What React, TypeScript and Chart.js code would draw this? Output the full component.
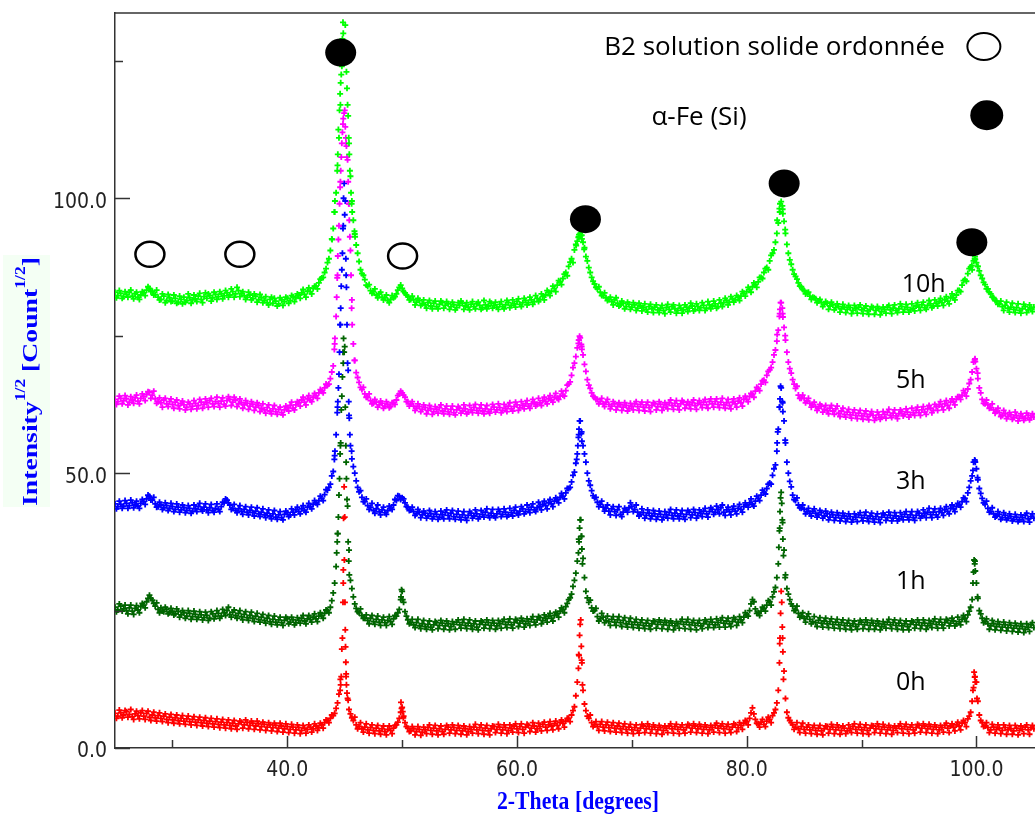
import React, { useEffect, useRef } from 'react';
import { Chart, registerables } from 'chart.js';

Chart.register(...registerables);

// ---- scan grid (2-Theta): main readings at 25.0, 25.25, ...; interleaved readings at 25.125, 25.375, ... ----
const THETA_START = 25;
const THETA_STEP = 0.25;

// ---- sqrt-intensity, main grid 25° .. 105° (4 values per degree) ----
const I_10h = [
  82.9, 82.3, 82.7, 82.1, 82.5, 82.9, 82.2, 82.6, 82.0, 82.4, 82.8, 83.3, 83.6, 83.1, 82.5, 82.0,
  81.6, 82.2, 81.4, 81.9, 81.3, 81.8, 81.1, 81.6, 82.0, 81.4, 81.9, 81.5, 81.7, 82.2, 81.6, 82.1,
  81.8, 82.3, 81.9, 82.5, 82.1, 82.6, 82.3, 82.8, 82.4, 83.0, 82.6, 83.2, 82.7, 82.3, 82.0, 82.4,
  81.8, 82.2, 81.5, 81.9, 81.4, 81.0, 81.6, 80.9, 81.3, 80.8, 81.5, 81.2, 81.8, 81.4, 82.1, 81.9,
  82.4, 82.8, 82.5, 83.1, 83.0, 83.6, 84.0, 84.6, 85.5, 86.5, 88.3, 90.5, 94.5, 101.0, 111.0, 124.0,
  138.0, 117.0, 104.0, 96.0, 91.5, 88.5, 86.3, 85.2, 84.0, 83.2, 83.0, 82.4, 82.6, 82.0, 81.9, 81.4,
  81.6, 81.9, 82.6, 83.8, 83.6, 82.8, 82.1, 81.6, 81.5, 81.1, 81.4, 80.8, 80.6, 81.0, 80.4, 80.9,
  80.3, 80.7, 81.0, 80.5, 80.8, 80.3, 80.6, 80.1, 80.5, 80.9, 80.4, 80.2, 80.7, 80.3, 80.8, 80.5,
  80.1, 80.6, 80.4, 80.9, 80.5, 80.2, 80.7, 80.3, 80.6, 81.0, 80.5, 80.8, 81.2, 80.7, 81.0, 81.4,
  81.0, 81.5, 81.2, 81.8, 81.6, 82.1, 82.4, 82.9, 83.1, 83.6, 84.2, 84.8, 85.4, 86.5, 87.6, 89.0,
  90.6, 92.2, 93.6, 92.0, 89.4, 87.4, 85.6, 84.4, 83.5, 82.9, 82.3, 81.9, 81.6, 81.2, 81.5, 80.9,
  80.6, 80.9, 80.3, 80.7, 80.2, 80.6, 80.0, 80.4, 80.1, 79.8, 80.3, 79.9, 80.2, 79.7, 80.0, 79.6,
  80.1, 79.8, 80.3, 79.9, 79.6, 80.0, 79.7, 80.2, 80.0, 80.4, 79.8, 80.3, 80.1, 80.5, 80.0, 80.6,
  80.4, 80.8, 80.3, 80.9, 81.0, 81.4, 81.1, 81.7, 81.5, 82.0, 82.2, 82.7, 83.0, 83.4, 83.9, 84.3,
  84.8, 85.6, 86.5, 87.4, 88.6, 90.0, 92.0, 95.5, 99.4, 95.8, 91.6, 88.8, 87.0, 85.8, 84.6, 83.9,
  83.2, 82.8, 82.2, 82.0, 81.7, 81.3, 81.0, 80.7, 80.9, 80.4, 80.6, 80.1, 80.3, 79.9, 80.2, 79.8,
  80.1, 79.6, 79.9, 80.2, 79.7, 80.0, 79.5, 79.8, 80.1, 79.6, 79.9, 79.4, 79.8, 80.2, 79.7, 80.0,
  79.6, 79.9, 80.3, 79.8, 80.1, 79.7, 80.0, 80.4, 80.2, 80.6, 80.1, 80.5, 80.8, 80.4, 80.9, 81.2,
  81.0, 81.5, 81.3, 81.9, 81.9, 82.4, 83.2, 84.2, 85.2, 86.3, 87.5, 88.6, 88.3, 86.8, 85.4, 84.3,
  83.5, 82.6, 81.9, 81.3, 80.8, 80.3, 80.5, 80.0, 80.2, 79.8, 80.1, 79.6, 79.9, 80.3, 79.7, 80.0,
  80.2,
];
const I_10h_mid = [
  81.9, 83.2, 81.8, 83.0, 82.0, 83.3, 81.7, 82.9, 81.6, 83.0, 82.3, 83.9, 83.0, 82.4, 83.3, 81.5,
  82.6, 81.0, 82.5, 81.2, 82.4, 80.9, 82.2, 80.8, 81.1, 82.6, 80.9, 82.4, 81.2, 82.7, 81.0, 82.8,
  82.6, 81.3, 82.9, 81.6, 83.0, 81.7, 83.2, 82.0, 83.5, 82.0, 83.8, 82.1, 83.0, 81.6, 82.9, 81.5,
  82.6, 81.1, 82.5, 81.0, 82.1, 80.6, 82.0, 81.8, 80.4, 81.9, 80.5, 82.0, 80.9, 82.3, 81.2, 82.6,
  81.8, 83.4, 82.0, 83.7, 82.6, 84.0, 83.5, 85.3, 85.6, 87.2, 89.0, 92.6, 97.5, 106.0, 117.0, 130.0,
  125.0, 110.0, 99.5, 93.5, 90.0, 87.0, 86.0, 84.2, 84.3, 82.7, 83.5, 81.9, 82.9, 81.5, 82.4, 81.0,
  82.3, 82.1, 83.3, 84.2, 83.0, 82.4, 81.5, 82.2, 80.6, 81.8, 80.5, 81.5, 80.0, 81.4, 79.9, 81.3,
  79.9, 81.3, 80.0, 81.2, 79.8, 81.1, 79.7, 81.0, 81.3, 79.8, 81.0, 79.7, 81.2, 79.9, 81.1, 79.8,
  81.4, 79.9, 81.2, 80.0, 81.1, 79.8, 81.2, 79.9, 81.4, 80.1, 81.5, 80.2, 81.7, 80.3, 81.8, 80.6,
  82.0, 80.7, 82.3, 81.2, 82.6, 81.5, 83.2, 82.3, 84.0, 83.0, 85.0, 84.3, 86.2, 85.9, 88.4, 88.3,
  91.6, 93.0, 93.3, 91.0, 88.6, 86.5, 84.9, 83.8, 83.9, 82.3, 82.8, 81.4, 82.0, 80.6, 81.9, 80.4,
  81.3, 79.9, 81.1, 79.8, 81.0, 79.6, 80.9, 79.5, 80.8, 79.3, 80.7, 79.2, 80.6, 79.2, 80.5, 79.0,
  80.7, 79.3, 80.6, 79.1, 80.5, 79.1, 80.6, 79.4, 80.9, 79.5, 80.8, 79.6, 81.0, 79.6, 81.2, 79.9,
  81.3, 80.0, 81.5, 80.3, 81.8, 80.6, 82.1, 81.1, 82.3, 81.4, 83.0, 82.2, 83.8, 82.9, 84.6, 83.8,
  85.6, 85.4, 87.2, 87.0, 89.6, 90.6, 93.6, 97.5, 98.0, 93.6, 90.0, 88.0, 86.2, 85.3, 84.0, 83.4,
  82.6, 82.9, 81.6, 81.9, 81.0, 81.6, 80.3, 81.2, 79.8, 81.1, 79.7, 80.8, 79.3, 80.7, 79.2, 80.5,
  79.0, 80.5, 79.1, 80.6, 79.0, 80.4, 78.9, 80.3, 78.9, 80.3, 78.8, 80.2, 79.1, 80.5, 79.0, 80.6,
  79.2, 80.8, 79.3, 80.7, 79.3, 80.8, 79.5, 81.0, 79.6, 81.1, 79.8, 81.4, 80.1, 81.5, 80.4, 81.8,
  80.5, 82.1, 80.8, 82.6, 81.5, 83.2, 83.0, 85.0, 84.9, 87.2, 87.0, 89.4, 87.6, 86.0, 84.7, 83.5,
  82.9, 82.0, 81.4, 80.7, 81.3, 79.6, 81.1, 79.3, 80.9, 79.2, 80.8, 79.1, 80.7, 79.2, 80.6, 79.4,
];

const I_5h = [
  63.4, 63.0, 63.6, 63.2, 63.5, 62.9, 63.3, 63.7, 63.1, 63.6, 63.9, 64.3, 64.7, 64.2, 63.5, 63.0,
  62.8, 63.3, 62.6, 63.0, 62.5, 62.9, 62.3, 62.7, 62.4, 62.0, 62.6, 62.2, 62.7, 62.3, 62.9, 62.5,
  62.8, 63.2, 62.6, 63.0, 62.7, 63.1, 62.5, 63.2, 63.4, 62.9, 63.3, 62.6, 62.8, 62.4, 62.7, 62.2,
  62.5, 62.0, 62.3, 61.8, 61.5, 61.9, 61.3, 61.7, 61.2, 61.6, 61.0, 61.5, 61.9, 62.3, 61.8, 62.4,
  62.8, 63.3, 62.9, 63.5, 63.3, 63.8, 64.1, 64.6, 64.9, 65.5, 66.0, 67.2, 69.5, 78.5, 95.0, 110.0,
  116.0, 107.0, 90.5, 73.5, 68.3, 66.5, 65.2, 64.4, 63.8, 63.2, 62.7, 62.9, 62.4, 62.7, 62.2, 62.5,
  62.1, 62.8, 63.3, 64.4, 64.6, 63.8, 63.0, 62.6, 62.2, 61.8, 62.1, 61.6, 61.9, 61.4, 61.7, 61.2,
  61.6, 61.9, 61.3, 61.7, 61.2, 61.6, 61.0, 61.5, 61.8, 61.3, 61.7, 61.1, 61.5, 61.9, 61.4, 61.8,
  61.3, 61.7, 61.2, 61.6, 62.0, 61.5, 61.9, 61.4, 61.8, 62.2, 61.7, 62.1, 62.4, 61.9, 62.3, 62.6,
  62.2, 62.6, 62.9, 62.5, 62.8, 63.2, 63.0, 63.5, 63.3, 63.8, 63.6, 64.0, 64.2, 65.0, 66.2, 67.8,
  70.0, 72.8, 74.6, 71.5, 68.5, 66.0, 64.6, 63.8, 63.4, 63.0, 62.6, 62.9, 62.5, 62.2, 62.6, 62.1,
  62.4, 62.0, 62.3, 61.8, 62.2, 62.6, 62.1, 62.5, 62.0, 62.4, 61.9, 62.3, 62.6, 62.1, 62.5, 62.0,
  62.4, 62.8, 62.3, 62.7, 62.2, 62.6, 62.9, 62.4, 62.4, 62.8, 62.3, 62.7, 62.5, 62.9, 62.4, 63.0,
  62.6, 63.0, 62.5, 62.9, 62.4, 62.8, 62.3, 62.9, 62.6, 63.1, 62.8, 63.4, 63.4, 63.9, 64.3, 64.9,
  65.4, 66.2, 66.9, 67.8, 68.8, 70.2, 72.4, 76.0, 81.0, 76.5, 72.0, 69.0, 67.0, 65.4, 64.2, 63.6,
  63.6, 63.1, 62.7, 62.4, 62.1, 61.8, 62.2, 61.6, 61.4, 61.8, 61.3, 61.7, 60.9, 61.3, 60.7, 61.1,
  60.6, 61.0, 60.5, 60.9, 60.4, 60.8, 60.3, 60.7, 60.5, 60.1, 60.6, 60.2, 60.7, 61.1, 60.5, 60.9,
  60.4, 60.8, 61.2, 60.7, 61.1, 60.6, 61.0, 61.4, 61.0, 61.5, 61.1, 61.7, 61.8, 61.4, 62.1, 62.4,
  62.1, 62.6, 62.3, 62.9, 63.0, 63.4, 63.9, 64.2, 64.6, 65.3, 67.0, 70.2, 69.0, 65.5, 63.4, 62.6,
  62.4, 61.9, 61.5, 61.2, 61.0, 60.5, 60.8, 60.3, 60.6, 60.1, 60.4, 60.0, 60.3, 60.0, 60.5, 60.1,
  60.2,
];
const I_5h_mid = [
  62.5, 64.0, 62.6, 64.1, 62.4, 63.9, 62.7, 64.2, 62.6, 64.4, 63.2, 64.8, 63.6, 64.9, 62.7, 63.7,
  62.0, 63.6, 62.1, 63.5, 61.8, 63.3, 61.7, 63.1, 61.5, 62.9, 61.6, 63.2, 61.7, 63.4, 61.8, 63.5,
  62.0, 63.6, 62.1, 63.8, 62.0, 63.7, 62.2, 63.9, 62.3, 63.8, 62.1, 63.5, 61.8, 63.2, 61.6, 63.0,
  61.4, 62.8, 61.2, 62.6, 60.9, 62.4, 60.8, 62.3, 60.7, 62.0, 60.6, 62.2, 61.3, 62.9, 61.5, 63.0,
  62.2, 63.8, 62.4, 64.1, 63.0, 64.5, 63.6, 65.2, 64.6, 66.2, 66.2, 68.4, 73.5, 86.0, 103.0, 114.5,
  110.0, 99.0, 81.5, 70.5, 67.4, 65.6, 65.6, 63.8, 64.4, 62.6, 63.4, 62.0, 63.1, 61.8, 63.0, 61.9,
  62.8, 62.5, 64.1, 64.9, 64.2, 63.0, 62.2, 63.0, 61.4, 62.6, 61.2, 62.4, 60.8, 62.3, 60.7, 62.1,
  60.9, 62.4, 60.8, 62.2, 60.7, 62.2, 60.6, 62.1, 60.9, 62.4, 60.8, 62.3, 61.0, 62.5, 60.9, 62.4,
  60.8, 62.3, 60.9, 62.5, 61.1, 62.6, 61.0, 62.5, 61.2, 62.8, 61.3, 62.9, 61.4, 63.0, 61.7, 63.2,
  61.8, 63.4, 62.2, 63.6, 62.3, 63.8, 62.6, 64.1, 62.9, 64.5, 63.4, 64.9, 64.0, 66.0, 66.6, 69.2,
  71.2, 74.2, 73.0, 69.8, 67.0, 65.4, 64.0, 63.4, 62.6, 63.6, 62.1, 63.4, 61.7, 63.0, 61.5, 62.8,
  61.4, 62.8, 61.3, 62.7, 61.5, 63.0, 61.4, 62.9, 61.3, 62.9, 61.2, 62.8, 61.5, 63.0, 61.4, 62.8,
  61.7, 63.3, 61.6, 63.2, 61.5, 63.2, 61.8, 63.0, 61.7, 63.3, 61.6, 63.2, 61.9, 63.4, 61.8, 63.5,
  62.0, 63.5, 61.9, 63.6, 61.8, 63.4, 61.7, 63.5, 62.0, 63.7, 62.2, 64.0, 63.0, 64.5, 63.8, 65.6,
  65.0, 66.8, 66.5, 68.5, 69.2, 71.5, 74.0, 79.0, 79.0, 74.2, 70.2, 68.2, 66.2, 65.8, 63.6, 64.2,
  62.8, 63.6, 62.0, 62.9, 61.4, 62.5, 61.1, 62.3, 60.8, 62.3, 60.7, 62.2, 60.3, 61.8, 60.2, 61.6,
  60.0, 61.5, 59.9, 61.4, 59.8, 61.3, 59.7, 61.2, 59.6, 61.1, 59.8, 61.2, 60.0, 61.6, 60.1, 61.5,
  59.9, 61.5, 60.4, 61.7, 60.2, 61.8, 60.5, 62.0, 60.5, 62.1, 60.7, 62.3, 61.0, 62.5, 61.4, 63.0,
  61.5, 63.2, 61.8, 63.5, 62.4, 63.9, 63.4, 65.0, 64.0, 66.3, 68.4, 70.8, 67.2, 64.6, 62.7, 63.3,
  61.8, 62.6, 60.9, 61.8, 60.3, 61.4, 59.9, 61.0, 59.8, 61.1, 59.5, 60.8, 59.6, 60.9, 59.7, 60.8,
];

const I_3h = [
  44.4, 43.9, 44.3, 44.0, 44.5, 44.1, 44.6, 44.2, 44.0, 44.5, 44.8, 45.3, 45.8, 45.1, 44.4, 43.9,
  44.2, 43.7, 44.1, 43.6, 43.9, 43.4, 43.8, 43.3, 43.7, 43.2, 43.6, 43.1, 43.5, 43.9, 43.4, 43.8,
  43.3, 43.7, 43.2, 43.6, 43.4, 43.9, 44.6, 45.1, 44.2, 43.6, 43.2, 43.5, 43.1, 43.4, 42.9, 43.2,
  42.8, 43.1, 42.6, 42.9, 42.4, 42.7, 42.2, 42.6, 42.0, 42.4, 41.9, 42.5, 42.8, 42.4, 42.9, 43.3,
  43.0, 43.5, 43.2, 43.8, 43.9, 44.3, 44.6, 45.0, 45.4, 46.1, 46.9, 48.0, 50.3, 57.0, 68.0, 87.0,
  97.0, 70.0, 55.0, 51.2, 48.6, 46.6, 45.6, 44.8, 44.1, 43.8, 43.2, 43.5, 43.0, 43.3, 42.8, 43.2,
  43.6, 44.2, 45.0, 45.8, 45.5, 44.6, 43.8, 43.3, 43.0, 42.6, 42.9, 42.4, 42.7, 42.2, 42.6, 42.1,
  42.5, 42.0, 42.4, 42.8, 42.3, 42.7, 42.1, 42.5, 42.0, 42.4, 41.9, 42.3, 42.7, 42.2, 42.6, 42.1,
  42.5, 42.9, 42.3, 42.7, 42.2, 42.6, 43.0, 42.5, 42.9, 42.4, 42.8, 43.2, 42.7, 43.1, 43.5, 43.0,
  43.4, 43.8, 43.3, 43.7, 44.0, 44.3, 44.1, 44.6, 44.4, 44.9, 45.2, 45.6, 45.8, 46.4, 47.2, 48.4,
  50.2, 53.5, 59.5, 55.0, 52.0, 48.6, 46.8, 45.5, 44.7, 44.3, 43.8, 43.6, 43.1, 43.5, 43.0, 43.3,
  42.5, 42.9, 43.3, 43.7, 43.9, 43.4, 42.9, 42.5, 42.8, 42.3, 42.7, 42.2, 42.6, 42.1, 42.5, 42.0,
  42.4, 42.8, 42.3, 42.7, 42.2, 42.6, 42.1, 42.5, 42.9, 42.4, 42.8, 42.3, 42.7, 43.1, 42.6, 43.0,
  43.4, 42.9, 43.3, 43.7, 42.9, 43.3, 43.0, 43.4, 43.1, 43.6, 43.4, 43.9, 44.2, 44.6, 44.3, 44.9,
  45.4, 46.0, 46.5, 47.2, 48.2, 49.6, 51.5, 58.0, 65.5, 59.5, 52.0, 48.5, 46.0, 45.0, 44.2, 43.6,
  43.4, 43.0, 42.7, 43.1, 42.7, 42.4, 42.8, 42.2, 42.6, 42.0, 42.4, 41.9, 42.3, 41.8, 42.2, 41.7,
  42.1, 41.6, 42.0, 42.4, 41.9, 42.3, 41.8, 42.2, 41.7, 42.1, 41.6, 42.0, 42.4, 41.9, 42.3, 41.8,
  42.2, 41.7, 42.1, 42.5, 42.0, 42.4, 41.9, 42.3, 42.7, 42.2, 42.6, 42.9, 42.5, 42.9, 42.4, 43.0,
  42.8, 43.3, 43.0, 43.6, 43.5, 43.9, 44.2, 44.8, 45.4, 46.4, 48.6, 52.0, 50.8, 47.2, 45.4, 44.3,
  43.6, 43.0, 42.6, 42.2, 42.5, 41.9, 42.3, 41.8, 42.1, 41.6, 42.0, 41.5, 41.9, 42.3, 41.7, 42.1,
  41.8,
];
const I_3h_mid = [
  43.5, 44.9, 43.6, 45.0, 43.6, 45.1, 43.7, 44.9, 43.6, 45.2, 44.3, 46.0, 45.1, 45.6, 43.8, 44.7,
  43.4, 44.6, 43.2, 44.5, 43.0, 44.4, 42.9, 44.2, 42.8, 44.1, 42.7, 44.2, 43.0, 44.5, 43.1, 44.4,
  42.8, 44.3, 42.9, 44.4, 43.0, 44.7, 45.3, 44.6, 43.4, 44.3, 42.8, 44.1, 42.5, 43.9, 42.4, 43.8,
  42.2, 43.7, 42.1, 43.5, 41.9, 43.3, 41.7, 43.2, 41.6, 43.0, 41.5, 43.1, 42.1, 43.5, 42.4, 43.8,
  42.6, 44.1, 42.9, 44.5, 43.5, 45.0, 44.3, 45.8, 45.0, 47.0, 47.4, 49.5, 53.2, 62.0, 77.0, 95.0,
  86.0, 60.5, 52.6, 50.0, 47.4, 46.8, 44.8, 45.3, 43.4, 44.5, 42.7, 44.2, 42.4, 43.8, 42.5, 44.0,
  43.4, 45.2, 45.9, 45.2, 45.3, 43.9, 43.2, 43.8, 42.3, 43.4, 41.9, 43.1, 41.8, 43.2, 41.7, 43.0,
  41.6, 43.1, 41.7, 43.3, 41.7, 43.2, 41.6, 43.1, 41.5, 43.0, 41.4, 43.0, 41.8, 43.3, 41.7, 43.2,
  42.0, 43.5, 41.9, 43.4, 41.9, 43.4, 42.1, 43.5, 42.1, 43.6, 42.2, 43.8, 42.4, 43.9, 42.6, 44.2,
  42.8, 44.4, 43.0, 44.7, 43.3, 44.9, 43.5, 45.2, 43.9, 45.5, 44.6, 46.3, 45.3, 47.2, 47.4, 49.6,
  51.8, 57.0, 57.5, 53.5, 50.0, 47.8, 45.9, 45.6, 43.9, 44.9, 43.1, 44.2, 42.4, 43.9, 42.3, 43.9,
  42.1, 43.6, 42.9, 44.6, 43.0, 44.2, 42.2, 43.5, 41.8, 43.3, 41.7, 43.2, 41.6, 43.1, 41.5, 43.0,
  41.8, 43.4, 41.7, 43.3, 41.7, 43.2, 41.6, 43.2, 41.9, 43.4, 41.8, 43.3, 42.1, 43.6, 42.0, 43.7,
  42.5, 44.0, 42.6, 44.2, 42.3, 43.8, 42.4, 44.0, 42.6, 44.3, 42.9, 44.6, 43.8, 45.3, 44.0, 45.8,
  45.0, 46.9, 46.2, 48.0, 48.0, 50.8, 54.0, 62.0, 62.8, 55.5, 50.0, 47.5, 45.2, 45.5, 43.7, 44.2,
  42.6, 43.6, 42.2, 43.5, 42.0, 43.2, 41.8, 43.1, 41.5, 42.9, 41.4, 42.8, 41.3, 42.7, 41.2, 42.6,
  41.1, 42.6, 41.2, 42.8, 41.3, 42.9, 41.2, 42.7, 41.1, 42.6, 41.0, 42.7, 41.4, 42.9, 41.3, 42.8,
  41.3, 42.8, 41.5, 43.0, 41.5, 43.0, 41.4, 43.0, 41.8, 43.3, 41.9, 43.6, 41.9, 43.5, 42.0, 43.6,
  42.3, 43.9, 42.6, 44.2, 43.0, 44.5, 43.8, 45.5, 44.8, 47.4, 49.5, 52.2, 48.8, 46.3, 44.6, 44.9,
  42.9, 43.7, 42.0, 43.0, 41.6, 42.8, 41.5, 42.6, 41.3, 42.5, 41.2, 42.4, 41.2, 42.7, 41.1, 42.6,
];

const I_1h = [
  25.6, 25.1, 25.8, 25.3, 25.0, 25.5, 24.9, 25.4, 25.1, 25.7, 26.0, 26.6, 27.8, 26.9, 25.8, 25.2,
  25.5, 24.8, 25.2, 24.6, 24.9, 24.4, 24.8, 24.2, 24.6, 24.0, 24.5, 23.9, 24.3, 23.8, 24.2, 23.7,
  24.1, 23.6, 24.4, 24.0, 24.5, 24.0, 24.6, 25.0, 24.3, 24.7, 24.1, 24.5, 23.9, 24.3, 23.7, 24.1,
  23.6, 24.0, 23.4, 23.8, 23.2, 23.6, 23.0, 23.4, 22.9, 23.3, 22.8, 23.2, 23.5, 22.9, 23.3, 22.8,
  23.2, 23.6, 23.1, 23.5, 23.4, 23.8, 23.5, 24.0, 24.1, 24.5, 25.0, 25.6, 28.2, 33.0, 46.0, 64.0,
  73.0, 44.0, 30.5, 27.5, 25.4, 24.6, 24.1, 23.6, 23.2, 23.6, 23.0, 23.4, 22.9, 23.3, 22.8, 23.2,
  23.0, 23.5, 24.0, 25.2, 28.5, 24.8, 23.3, 22.8, 22.4, 22.8, 22.2, 22.6, 22.1, 22.5, 22.0, 22.4,
  22.8, 22.3, 22.7, 22.2, 22.6, 22.1, 22.5, 22.9, 22.4, 22.8, 22.3, 22.7, 22.2, 22.6, 22.0, 22.5,
  22.9, 22.4, 22.8, 22.3, 22.7, 22.2, 22.6, 23.0, 22.5, 22.9, 22.4, 22.8, 23.2, 22.7, 23.1, 22.6,
  23.0, 23.4, 22.9, 23.3, 23.7, 23.2, 23.6, 24.0, 23.6, 24.1, 24.4, 24.9, 25.2, 25.7, 27.0, 28.0,
  30.5, 34.0, 41.5, 34.5, 28.5, 26.5, 25.5, 25.0, 23.9, 23.5, 23.8, 23.2, 23.0, 23.4, 22.9, 23.3,
  22.8, 23.2, 22.6, 23.0, 22.5, 22.9, 22.4, 22.8, 22.3, 22.7, 22.2, 22.6, 23.0, 22.5, 22.9, 22.4,
  22.8, 22.3, 22.7, 22.2, 22.6, 23.0, 22.5, 22.9, 22.4, 22.8, 22.3, 22.7, 22.2, 22.6, 23.0, 22.5,
  22.9, 22.4, 22.8, 23.2, 22.7, 23.1, 22.6, 23.0, 23.4, 22.9, 23.3, 23.8, 24.2, 25.0, 27.0, 25.3,
  24.6, 24.9, 25.4, 26.0, 26.6, 27.5, 29.2, 33.5, 46.5, 36.0, 29.0, 27.0, 25.8, 25.1, 24.5, 24.0,
  23.6, 23.9, 23.4, 23.0, 22.8, 23.2, 22.7, 23.1, 22.6, 23.0, 22.5, 22.9, 22.4, 22.8, 22.3, 22.7,
  22.2, 22.6, 22.1, 22.5, 22.9, 22.4, 22.8, 22.3, 22.7, 22.2, 22.6, 22.1, 22.5, 22.9, 22.4, 22.8,
  22.3, 22.7, 22.2, 22.6, 22.1, 22.5, 22.9, 22.4, 22.8, 22.3, 22.7, 22.2, 22.6, 23.0, 22.5, 22.9,
  22.4, 22.8, 23.2, 22.7, 23.1, 22.6, 23.0, 23.4, 23.6, 24.2, 25.6, 32.0, 30.0, 25.0, 23.6, 23.0,
  22.6, 22.2, 22.6, 22.1, 22.5, 22.0, 22.4, 21.9, 22.3, 21.8, 22.2, 21.7, 22.1, 21.6, 22.0, 22.4,
  21.9,
];
const I_1h_mid = [
  24.8, 26.2, 24.9, 26.0, 24.4, 26.0, 24.3, 25.9, 24.6, 26.3, 25.5, 27.2, 27.2, 26.3, 26.4, 24.6,
  24.9, 25.6, 24.4, 25.4, 24.2, 25.3, 23.8, 25.0, 23.6, 25.0, 23.4, 24.9, 23.4, 24.8, 23.3, 24.7,
  23.2, 24.8, 23.5, 25.0, 23.6, 25.2, 24.1, 25.6, 23.8, 25.1, 23.6, 25.0, 23.3, 24.8, 23.2, 24.7,
  23.0, 24.5, 22.9, 24.3, 22.7, 24.1, 22.5, 24.0, 22.4, 23.8, 22.3, 23.8, 22.6, 23.8, 22.4, 23.7,
  22.7, 24.1, 22.6, 24.1, 22.9, 24.4, 23.0, 24.6, 23.6, 25.1, 24.6, 26.8, 30.0, 39.0, 55.0, 70.0,
  52.0, 36.0, 29.0, 26.2, 24.8, 25.3, 23.6, 24.2, 22.6, 24.1, 22.5, 24.0, 22.3, 23.8, 22.3, 23.9,
  22.5, 24.1, 24.6, 27.0, 26.5, 24.0, 22.6, 23.4, 21.9, 23.4, 21.7, 23.2, 21.6, 23.1, 21.5, 23.0,
  21.7, 23.2, 21.6, 23.1, 21.5, 23.0, 21.6, 23.3, 21.8, 23.4, 21.7, 23.3, 21.6, 23.1, 21.5, 23.1,
  21.8, 23.3, 21.7, 23.2, 21.6, 23.2, 21.8, 23.4, 21.9, 23.5, 21.8, 23.4, 22.1, 23.6, 22.0, 23.5,
  22.3, 23.9, 22.4, 23.9, 22.6, 24.2, 22.9, 24.5, 23.1, 24.7, 23.8, 25.5, 24.6, 26.3, 27.3, 29.4,
  31.8, 38.0, 38.5, 31.0, 27.3, 26.9, 24.9, 25.4, 23.1, 24.5, 22.8, 24.0, 22.3, 23.9, 22.3, 23.9,
  22.1, 23.7, 22.0, 23.6, 21.9, 23.4, 21.8, 23.3, 21.7, 23.2, 21.6, 23.1, 21.8, 23.3, 21.7, 23.2,
  21.6, 23.1, 21.5, 23.0, 21.8, 23.4, 21.7, 23.4, 21.6, 23.2, 21.5, 23.2, 21.7, 23.3, 21.9, 23.4,
  21.9, 23.5, 22.0, 23.7, 22.0, 23.6, 22.1, 23.7, 22.3, 23.9, 22.8, 24.6, 24.0, 26.2, 26.6, 24.5,
  24.1, 25.6, 24.9, 26.8, 26.0, 28.4, 31.0, 40.0, 41.0, 31.5, 28.0, 26.2, 25.0, 25.8, 23.8, 24.6,
  22.9, 24.4, 22.6, 23.9, 22.1, 23.7, 22.0, 23.6, 21.9, 23.5, 21.8, 23.4, 21.7, 23.3, 21.6, 23.2,
  21.5, 23.1, 21.6, 23.2, 21.7, 23.3, 21.6, 23.2, 21.6, 23.1, 21.5, 23.0, 21.8, 23.4, 21.7, 23.3,
  21.6, 23.2, 21.5, 23.1, 21.5, 23.1, 21.8, 23.3, 21.7, 23.3, 21.6, 23.2, 21.9, 23.5, 21.8, 23.4,
  21.8, 23.4, 22.2, 23.6, 22.2, 23.8, 22.4, 24.1, 23.0, 24.9, 27.0, 34.0, 27.2, 24.4, 22.8, 23.5,
  21.6, 23.2, 21.5, 23.0, 21.4, 22.9, 21.3, 22.8, 21.2, 22.7, 21.1, 22.6, 21.0, 22.6, 21.2, 22.8,
];

const I_0h = [
  6.3, 5.8, 6.4, 6.0, 6.6, 6.1, 5.7, 6.2, 5.9, 6.4, 5.8, 6.3, 5.6, 6.0, 5.5, 5.9,
  5.4, 5.8, 5.2, 5.6, 5.1, 5.5, 5.0, 5.4, 4.9, 5.3, 4.8, 5.2, 4.7, 5.1, 4.6, 5.0,
  4.5, 4.9, 4.4, 4.8, 4.3, 4.7, 4.2, 4.6, 4.1, 4.5, 4.0, 4.4, 4.7, 4.2, 4.6, 4.1,
  4.5, 4.0, 4.4, 3.9, 4.3, 3.8, 4.2, 3.7, 4.1, 3.6, 4.0, 3.5, 3.9, 3.4, 3.8, 3.3,
  3.7, 3.2, 3.6, 3.4, 3.8, 3.5, 4.0, 3.7, 4.2, 4.6, 5.0, 5.4, 5.9, 7.2, 9.8, 18.0,
  42.0, 9.0, 6.2, 5.0, 4.2, 3.9, 3.5, 3.8, 3.3, 3.7, 3.2, 3.6, 3.1, 3.5, 3.0, 3.4,
  3.2, 3.6, 4.2, 5.4, 7.4, 4.6, 3.6, 3.1, 3.5, 3.0, 3.4, 2.9, 3.3, 3.7, 3.2, 3.6,
  3.1, 3.5, 3.0, 3.4, 3.8, 3.3, 3.7, 3.2, 3.6, 3.1, 3.5, 3.0, 3.4, 3.8, 3.3, 3.7,
  3.2, 3.6, 3.1, 3.5, 3.9, 3.4, 3.8, 3.3, 3.7, 3.2, 3.6, 4.0, 3.5, 3.9, 3.4, 3.8,
  4.1, 3.6, 4.0, 3.5, 3.9, 4.3, 3.8, 4.2, 4.0, 4.4, 4.1, 4.6, 4.5, 4.9, 5.4, 6.0,
  7.5, 12.0, 22.5, 10.5, 6.8, 5.4, 4.6, 4.2, 3.9, 4.3, 3.8, 4.2, 3.7, 4.1, 3.6, 4.0,
  3.5, 3.9, 3.4, 3.8, 3.3, 3.7, 3.2, 3.6, 4.0, 3.5, 3.9, 3.4, 3.8, 3.3, 3.7, 3.2,
  3.6, 4.0, 3.5, 3.9, 3.4, 3.8, 3.3, 3.7, 4.1, 3.6, 4.0, 3.5, 3.9, 3.4, 3.8, 3.3,
  3.7, 4.1, 3.6, 4.0, 3.5, 3.9, 3.4, 3.8, 4.2, 3.7, 4.1, 4.5, 4.8, 5.4, 7.3, 5.2,
  4.4, 4.7, 4.3, 4.9, 5.2, 5.9, 7.0, 10.5, 28.5, 14.0, 6.5, 5.0, 4.2, 3.8, 3.5, 3.9,
  3.4, 3.8, 3.3, 3.7, 3.2, 3.6, 3.1, 3.5, 3.9, 3.4, 3.8, 3.3, 3.7, 3.2, 3.6, 3.1,
  3.5, 3.9, 3.4, 3.8, 3.3, 3.7, 3.2, 3.6, 4.0, 3.5, 3.9, 3.4, 3.8, 3.3, 3.7, 3.2,
  3.6, 4.0, 3.5, 3.9, 3.4, 3.8, 3.3, 3.7, 4.1, 3.6, 4.0, 3.5, 3.9, 3.4, 3.8, 3.3,
  3.7, 4.1, 3.6, 4.0, 3.8, 4.2, 4.0, 4.5, 4.6, 5.3, 6.5, 11.0, 12.0, 6.0, 4.6, 4.0,
  3.7, 3.3, 3.8, 3.4, 3.6, 3.2, 3.7, 3.3, 3.5, 3.1, 3.6, 3.2, 3.4, 3.8, 3.3, 3.7,
  3.5,
];
const I_0h_mid = [
  5.4, 6.9, 5.5, 6.8, 5.6, 7.0, 5.2, 6.7, 5.3, 6.8, 5.2, 6.7, 5.0, 6.5, 4.9, 6.4,
  4.8, 6.2, 4.6, 6.1, 4.5, 6.0, 4.4, 5.9, 4.3, 5.8, 4.2, 5.7, 4.1, 5.6, 4.0, 5.5,
  3.9, 5.4, 3.8, 5.3, 3.7, 5.2, 3.6, 5.1, 3.5, 5.0, 3.4, 4.9, 3.6, 5.1, 3.5, 4.9,
  3.4, 4.9, 3.3, 4.7, 3.2, 4.6, 3.1, 4.5, 3.0, 4.5, 2.9, 4.4, 2.8, 4.3, 2.7, 4.2,
  2.6, 4.1, 2.7, 4.2, 2.9, 4.4, 3.2, 4.5, 3.6, 5.1, 4.6, 6.0, 6.3, 8.2, 12.5, 30.0,
  13.5, 7.0, 5.5, 5.6, 3.5, 4.6, 2.9, 4.4, 2.7, 4.2, 2.6, 4.1, 2.5, 4.0, 2.4, 4.0,
  2.6, 4.1, 4.7, 6.5, 5.8, 3.9, 3.0, 3.9, 2.4, 3.9, 2.3, 3.8, 2.6, 4.2, 2.5, 4.1,
  2.4, 4.0, 2.5, 4.1, 2.7, 4.2, 2.6, 4.1, 2.5, 4.0, 2.4, 3.9, 2.7, 4.3, 2.6, 4.2,
  2.5, 4.1, 2.4, 4.0, 2.8, 4.3, 2.7, 4.2, 2.6, 4.2, 2.9, 4.4, 2.8, 4.4, 2.7, 4.3,
  3.0, 4.6, 2.9, 4.5, 3.1, 4.7, 3.2, 4.8, 3.3, 4.9, 3.5, 5.1, 3.8, 5.4, 4.8, 6.8,
  9.5, 17.0, 16.0, 8.0, 5.8, 6.0, 3.9, 4.8, 3.2, 4.8, 3.1, 4.7, 3.0, 4.6, 2.9, 4.5,
  2.8, 4.4, 2.7, 4.3, 2.6, 4.2, 2.7, 4.3, 2.8, 4.4, 2.7, 4.2, 2.6, 4.1, 2.5, 4.0,
  2.8, 4.4, 2.7, 4.3, 2.6, 4.2, 2.7, 4.3, 2.9, 4.4, 2.8, 4.3, 2.7, 4.2, 2.6, 4.1,
  2.9, 4.5, 2.8, 4.4, 2.7, 4.3, 2.8, 4.4, 3.0, 4.6, 3.4, 5.0, 4.2, 6.4, 6.2, 4.5,
  3.8, 5.2, 3.9, 5.6, 4.6, 6.4, 8.2, 19.0, 20.0, 9.0, 5.5, 4.6, 3.4, 4.6, 2.8, 4.5,
  2.7, 4.2, 2.6, 4.1, 2.5, 4.1, 2.4, 4.0, 2.7, 4.3, 2.6, 4.2, 2.5, 4.0, 2.6, 4.2,
  2.8, 4.4, 2.7, 4.3, 2.6, 4.2, 2.5, 4.1, 2.8, 4.4, 2.7, 4.3, 2.6, 4.1, 2.5, 4.0,
  2.8, 4.4, 2.7, 4.3, 2.6, 4.2, 2.7, 4.3, 2.9, 4.4, 2.8, 4.3, 2.7, 4.2, 2.6, 4.1,
  2.9, 4.5, 2.8, 4.4, 3.1, 4.7, 3.3, 5.0, 3.9, 5.8, 8.5, 13.0, 8.5, 5.0, 3.9, 4.6,
  2.8, 4.3, 2.7, 4.2, 2.6, 4.2, 2.5, 4.1, 2.5, 4.1, 2.4, 4.0, 2.6, 4.2, 2.5, 4.1,
];

// ---- extra points recorded at finer steps across the Bragg peaks: [2θ, I] ----
const peak_10h = [
  [43.9, 92.5], [44.1, 97.5], [44.15, 99.5], [44.35, 105.0], [44.4, 108.0], [44.45, 112.5], [44.55, 116.0],
  [44.6, 119.0], [44.65, 121.0], [44.7, 122.5], [44.75, 126.0], [44.8, 129.0], [44.85, 132.0], [44.95, 140.0],
  [45.05, 131.5], [45.1, 127.5], [45.15, 123.0], [45.2, 120.0], [45.3, 115.0], [45.35, 111.0], [45.4, 108.0],
  [45.45, 105.0], [45.55, 101.0], [45.6, 99.0], [45.65, 97.5], [45.85, 94.0], [45.9, 93.0],
  [65.15, 91.4], [65.35, 92.9], [65.4, 93.4], [65.6, 93.2], [65.65, 92.6], [65.85, 90.7],
  [82.65, 96.0], [82.85, 98.1], [82.9, 99.0], [83.1, 98.6], [83.15, 97.2], [83.35, 94.3],
  [99.6, 87.8], [99.85, 89.0], [99.9, 88.9], [100.1, 87.6],
];
const peak_5h = [
  [44.1, 72.5], [44.15, 74.5], [44.3, 82.0], [44.35, 85.5], [44.4, 89.5], [44.45, 92.5], [44.55, 99.0],
  [44.6, 102.0], [44.65, 105.0], [44.7, 107.5], [44.8, 112.0], [44.85, 113.5], [44.95, 115.5], [45.05, 113.0],
  [45.1, 111.0], [45.15, 109.5], [45.2, 107.5], [45.3, 103.0], [45.35, 99.0], [45.4, 96.0], [45.45, 93.0],
  [45.55, 86.0], [45.6, 80.0], [45.65, 77.0], [45.85, 70.5],
  [65.35, 73.6], [65.4, 74.2], [65.45, 74.9], [65.6, 73.4], [65.65, 72.5],
  [82.65, 75.2], [82.85, 78.5], [82.9, 79.8], [82.95, 81.0], [83.1, 80.0], [83.15, 78.4], [83.35, 75.0],
  [99.85, 70.6], [99.9, 70.3], [100.1, 68.2],
];
const peak_3h = [
  [44.1, 52.5], [44.15, 54.0], [44.35, 61.0], [44.4, 63.0], [44.45, 65.5], [44.55, 72.0], [44.6, 77.0],
  [44.65, 80.0], [44.7, 84.0], [44.8, 90.0], [44.85, 94.5], [44.9, 100.0], [44.95, 102.7], [45.05, 99.5],
  [45.1, 89.0], [45.15, 83.8], [45.2, 77.0], [45.3, 68.7], [45.35, 63.0], [45.4, 60.0], [45.45, 57.0], [45.6, 54.0],
  [65.2, 52.5], [65.3, 55.0], [65.35, 56.5], [65.4, 58.0], [65.45, 59.5], [65.6, 57.2], [65.65, 55.8],
  [82.65, 55.5], [82.7, 57.5], [82.85, 62.0], [82.9, 63.5], [82.95, 65.8], [83.1, 63.0], [83.15, 61.2], [83.35, 56.0],
  [99.7, 50.5], [99.85, 52.4], [99.9, 52.0], [100.1, 49.2],
];
const peak_1h = [
  [44.3, 35.5], [44.35, 37.5], [44.4, 39.0], [44.45, 42.0], [44.55, 49.0], [44.6, 53.5], [44.65, 55.5],
  [44.7, 61.5], [44.8, 67.5], [44.85, 72.0], [44.9, 74.5], [44.95, 72.0], [45.05, 62.0], [45.1, 55.0],
  [45.15, 49.0], [45.2, 45.2], [45.3, 37.5], [45.35, 34.0], [45.4, 31.5],
  [49.9, 27.5], [49.95, 28.8], [50.05, 27.0],
  [65.35, 35.5], [65.4, 37.5], [65.45, 40.0], [65.55, 41.5], [65.6, 38.5], [65.65, 36.2], [65.7, 33.5],
  [82.8, 36.5], [82.85, 39.5], [82.9, 43.0], [82.95, 45.5], [83.05, 44.5], [83.1, 41.5], [83.15, 38.0],
  [83.2, 35.0], [83.35, 31.0],
  [99.7, 30.0], [99.8, 34.2], [99.85, 33.5], [99.9, 32.2], [100.1, 27.5],
];
const peak_0h = [
  [44.6, 10.5], [44.65, 11.5], [44.7, 13.0], [44.8, 20.0], [44.85, 26.5], [44.88, 32.4], [44.9, 41.8],
  [44.95, 47.5], [44.97, 34.2], [45.02, 26.5], [45.05, 21.5], [45.07, 18.4], [45.1, 15.6], [45.12, 13.0],
  [45.15, 11.5], [45.2, 10.0], [45.3, 8.7],
  [49.9, 8.3], [49.95, 7.2], [50.05, 6.6], [50.1, 5.5],
  [65.35, 14.5], [65.4, 16.8], [65.45, 20.5], [65.55, 23.3], [65.6, 18.5], [65.65, 15.5], [65.7, 11.5],
  [82.85, 15.5], [82.9, 20.0], [82.95, 24.5], [83.05, 26.5], [83.1, 22.0], [83.15, 17.5], [83.2, 12.5],
  [99.7, 10.5], [99.8, 13.8], [99.85, 12.9], [99.9, 12.0], [100.05, 9.0],
];

const seriesNames = ['10h', '5h', '3h', '1h', '0h'];
const seriesGrid = [I_10h, I_5h, I_3h, I_1h, I_0h];
const seriesMid = [I_10h_mid, I_5h_mid, I_3h_mid, I_1h_mid, I_0h_mid];
const seriesPeaks = [peak_10h, peak_5h, peak_3h, peak_1h, peak_0h];
const seriesColors = ['#00ff00', '#ff00ff', '#0000ff', '#006400', '#ff0000'];

// ---- axes ----
const X_MIN = 25;
const X_MAX = 105.1;
const Y_MIN = 0;
const Y_MAX = 133.7;
const xLabelValues = [40, 60, 80, 100];
const xTickValues = [30, 40, 50, 60, 70, 80, 90, 100];
const yLabelValues = [0, 50, 100];
const yTickValues = [0, 25, 50, 75, 100, 125];
const xTitle = '2-Theta [degrees]';

// ---- annotations (in data units) ----
const alphaFeMarks = [[44.65, 126.5], [65.96, 96.2], [83.26, 102.7], [99.6, 92.0]];
const b2Marks = [[28.04, 89.8], [35.87, 89.8], [50.04, 89.5]];
const legendTexts = ['B2 solution solide ordonnée', 'α-Fe (Si)'];
const legendTextAt = [[67.6, 126.0], [71.7, 113.4]];
const legendMarkAt = [[100.65, 127.6], [100.9, 115.1]];
const hourLabelAt = [[93.5, 82.9], [93.0, 65.45], [93.0, 47.1], [93.0, 28.9], [93.0, 10.5]];

const TICK_FONT = "'Liberation Sans Narrow', 'DejaVu Sans Condensed', 'Arial Narrow', sans-serif";
const SERIF = "'Liberation Serif', 'DejaVu Serif', serif";
const SANS = "'Open Sans', 'Noto Sans', sans-serif";

const overlayPlugin = {
  id: 'xrdOverlay',
  afterDatasetsDraw(chart: any) {
    const { ctx, chartArea: a, scales } = chart;
    const xs = scales.x;
    const ys = scales.y;
    ctx.save();
    ctx.strokeStyle = '#333';
    ctx.lineWidth = 1.5;
    ctx.beginPath();
    ctx.moveTo(a.left, a.top);
    ctx.lineTo(a.right, a.top);
    ctx.stroke();
    xTickValues.forEach((v) => {
      const px = Math.round(xs.getPixelForValue(v)) + 0.5;
      const len = xLabelValues.includes(v) ? 12 : 8;
      ctx.beginPath();
      ctx.moveTo(px, a.bottom);
      ctx.lineTo(px, a.bottom - len);
      ctx.stroke();
    });
    yTickValues.forEach((v) => {
      const py = Math.round(ys.getPixelForValue(v)) + 0.5;
      const len = yLabelValues.includes(v) ? 15 : 8;
      ctx.beginPath();
      ctx.moveTo(a.left, py);
      ctx.lineTo(a.left + len, py);
      ctx.stroke();
    });
    ctx.fillStyle = '#000';
    alphaFeMarks.forEach(([t, i]) => {
      ctx.beginPath();
      ctx.ellipse(xs.getPixelForValue(t), ys.getPixelForValue(i), 15.5, 14, 0, 0, Math.PI * 2);
      ctx.fill();
    });
    ctx.strokeStyle = '#000';
    ctx.lineWidth = 2.5;
    b2Marks.forEach(([t, i]) => {
      ctx.beginPath();
      ctx.ellipse(xs.getPixelForValue(t), ys.getPixelForValue(i), 14.5, 12.5, 0, 0, Math.PI * 2);
      ctx.stroke();
    });
    ctx.fillStyle = '#000';
    ctx.font = `26px ${SANS}`;
    ctx.textAlign = 'left';
    ctx.textBaseline = 'alphabetic';
    legendTexts.forEach((txt, k) => {
      const [t, i] = legendTextAt[k];
      ctx.fillText(txt, xs.getPixelForValue(t), ys.getPixelForValue(i));
      const [mt, mi] = legendMarkAt[k];
      ctx.beginPath();
      if (k === 0) {
        ctx.lineWidth = 2;
        ctx.ellipse(xs.getPixelForValue(mt), ys.getPixelForValue(mi), 16.5, 13.5, 0, 0, Math.PI * 2);
        ctx.stroke();
      } else {
        ctx.ellipse(xs.getPixelForValue(mt), ys.getPixelForValue(mi), 16.5, 15, 0, 0, Math.PI * 2);
        ctx.fill();
      }
    });
    ctx.font = `25px ${SANS}`;
    seriesNames.forEach((name, k) => {
      const [t, i] = hourLabelAt[k];
      ctx.fillText(name, xs.getPixelForValue(t), ys.getPixelForValue(i));
    });
    ctx.restore();
  },
  afterDraw(chart: any) {
    const { ctx, chartArea: a } = chart;
    ctx.save();
    ctx.fillStyle = '#f4fff4';
    ctx.fillRect(3, 255, 47, 252);
    ctx.translate(37, 506);
    ctx.rotate(-Math.PI / 2);
    const mainF = `bold 22px ${SERIF}`;
    const supF = `bold 14px ${SERIF}`;
    const parts: [string, string, number][] = [
      ['Intensity', mainF, 0],
      ['1/2', supF, -12],
      [' [Count', mainF, 0],
      ['1/2', supF, -12],
      [']', mainF, 0],
    ];
    let total = 0;
    const widths = parts.map(([t, f]) => {
      ctx.font = f;
      const w = ctx.measureText(t).width;
      total += w;
      return w;
    });
    ctx.scale(249 / total, 1);
    ctx.fillStyle = '#0000ff';
    ctx.textAlign = 'left';
    ctx.textBaseline = 'alphabetic';
    let cx = 0;
    parts.forEach(([t, f, dy], k) => {
      ctx.font = f;
      ctx.fillText(t, cx, dy);
      cx += widths[k];
    });
    ctx.restore();

    ctx.save();
    ctx.font = `bold 22px ${SERIF}`;
    const w = ctx.measureText(xTitle).width;
    ctx.translate((a.left + a.right) / 2 + 3, 809);
    ctx.scale(162 / w, 1.12);
    ctx.fillStyle = '#0000ff';
    ctx.textAlign = 'center';
    ctx.textBaseline = 'alphabetic';
    ctx.fillText(xTitle, 0, 0);
    ctx.restore();
  },
};

const zeroPadding = (s: any) => {
  s.paddingTop = 0;
  s.paddingBottom = 0;
  s.paddingLeft = 0;
  s.paddingRight = 0;
};

export default function App() {
  const canvasRef = useRef<HTMLCanvasElement | null>(null);

  useEffect(() => {
    const canvas = canvasRef.current;
    if (!canvas) return;
    const datasets = seriesNames.map((name, k) => {
      const grid = seriesGrid[k].map((v, i) => ({ x: THETA_START + i * THETA_STEP, y: v }));
      const mid = seriesMid[k].map((v, i) => ({ x: THETA_START + THETA_STEP / 2 + i * THETA_STEP, y: v }));
      const extra = seriesPeaks[k].map(([t, v]) => ({ x: t, y: v }));
      return {
        label: name,
        data: grid.concat(mid, extra),
        borderColor: seriesColors[k],
        backgroundColor: seriesColors[k],
        pointStyle: 'cross',
        pointRadius: 3,
        pointBorderWidth: 1.8,
        pointHoverRadius: 3,
        showLine: false,
      };
    });

    const tickFont = { family: TICK_FONT, size: 21, weight: 'normal' as const };
    const chart = new Chart(canvas, {
      type: 'scatter',
      data: { datasets },
      options: {
        responsive: false,
        animation: false,
        devicePixelRatio: 1,
        layout: { autoPadding: false, padding: { top: 13, left: 0, right: 0, bottom: 0 } },
        plugins: {
          legend: { display: false },
          tooltip: { enabled: false },
          title: { display: false },
        },
        scales: {
          x: {
            type: 'linear',
            min: X_MIN,
            max: X_MAX,
            afterFit: (s: any) => {
              s.height = 66;
              zeroPadding(s);
            },
            afterBuildTicks: (s: any) => {
              s.ticks = xLabelValues.map((value) => ({ value }));
            },
            grid: { display: false, drawTicks: false },
            border: { display: true, color: '#333', width: 1.5 },
            ticks: {
              autoSkip: false,
              maxRotation: 0,
              padding: 10,
              color: '#222',
              font: tickFont,
              callback: (v: any) => Number(v).toFixed(1),
            },
          },
          y: {
            type: 'linear',
            min: Y_MIN,
            max: Y_MAX,
            afterFit: (s: any) => {
              s.width = 115;
              zeroPadding(s);
            },
            afterBuildTicks: (s: any) => {
              s.ticks = yLabelValues.map((value) => ({ value }));
            },
            grid: { display: false, drawTicks: false },
            border: { display: true, color: '#333', width: 1.5 },
            ticks: {
              autoSkip: false,
              padding: 8,
              labelOffset: 4,
              color: '#222',
              font: tickFont,
              callback: (v: any) => Number(v).toFixed(1),
            },
          },
        },
      },
      plugins: [overlayPlugin],
    } as any);
    return () => chart.destroy();
  }, []);

  return (
    <div style={{ position: 'absolute', left: 0, top: 0, width: 1035, height: 814, background: '#fff' }}>
      <canvas ref={canvasRef} width={1035} height={814} style={{ display: 'block', width: 1035, height: 814 }} />
    </div>
  );
}
